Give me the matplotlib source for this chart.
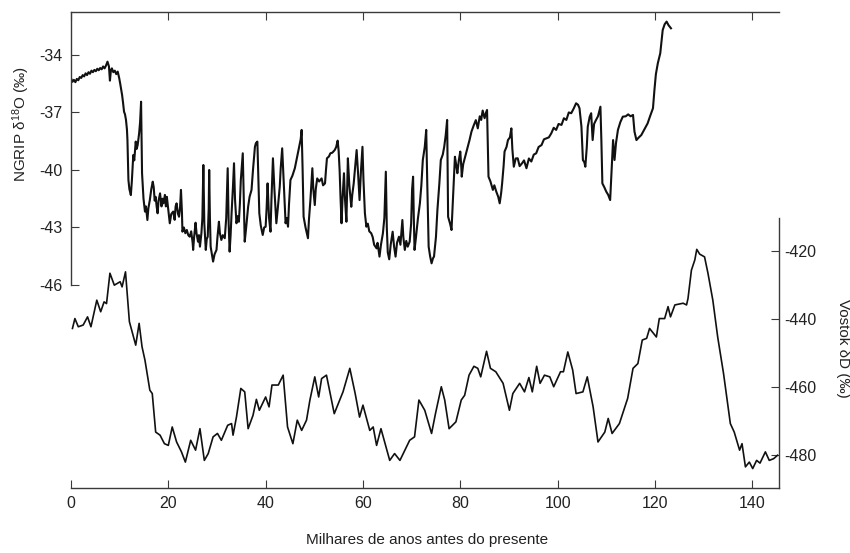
import numpy as np
import matplotlib
matplotlib.use("Agg")
import matplotlib.pyplot as plt

plt.rcParams['font.family'] = ['Liberation Sans', 'DejaVu Sans']
plt.rcParams['mathtext.fontset'] = 'custom'
plt.rcParams['mathtext.rm'] = 'Liberation Sans'
plt.rcParams['mathtext.it'] = 'Liberation Sans:italic'
plt.rcParams['axes.unicode_minus'] = False

# NGRIP δ18O (‰) against age (ka), ten values per row
ngrip_age = [
    0.0, 0.3, 0.6, 0.9, 1.2, 1.5, 1.8, 2.1, 2.4, 2.7,
    3.0, 3.3, 3.6, 3.9, 4.2, 4.5, 4.8, 5.1, 5.4, 5.7,
    6.0, 6.3, 6.6, 6.9, 7.2, 7.5, 7.8, 8.0, 8.2, 8.4,
    8.7, 9.0, 9.3, 9.6, 9.9, 10.1, 10.5, 10.7, 10.9, 11.1,
    11.3, 11.5, 11.6, 11.7, 11.8, 12.0, 12.3, 12.5, 12.8, 13.0,
    13.3, 13.5, 13.7, 13.9, 14.0, 14.2, 14.4, 14.5, 14.6, 14.9,
    15.2, 15.4, 15.7, 15.9, 16.2, 16.5, 16.8, 17.0, 17.2, 17.4,
    17.6, 17.8, 18.0, 18.3, 18.6, 18.8, 19.0, 19.3, 19.5, 19.7,
    20.0, 20.3, 20.6, 21.0, 21.3, 21.5, 21.7, 22.0, 22.2, 22.4,
    22.6, 22.8, 22.9, 23.2, 23.5, 23.8, 24.1, 24.4, 24.7, 25.0,
    25.1, 25.3, 25.6, 25.8, 26.1, 26.3, 26.5, 26.8, 27.0, 27.2,
    27.4, 27.7, 27.9, 28.1, 28.3, 28.4, 28.55, 28.7, 28.9, 29.2,
    29.5, 29.9, 30.1, 30.4, 30.6, 30.9, 31.2, 31.6, 31.9, 32.2,
    32.4, 32.6, 32.8, 33.0, 33.3, 33.5, 33.7, 34.0, 34.3, 34.5,
    34.7, 34.9, 35.1, 35.3, 35.5, 35.7, 36.0, 36.4, 36.7, 37.1,
    37.4, 37.8, 38.0, 38.3, 38.5, 38.7, 39.0, 39.4, 39.7, 40.0,
    40.2, 40.4, 40.7, 41.0, 41.2, 41.5, 41.8, 42.2, 42.5, 42.9,
    43.1, 43.4, 43.7, 44.1, 44.3, 44.6, 44.8, 45.1, 45.5, 46.0,
    46.4, 46.9, 47.2, 47.4, 47.6, 47.8, 48.2, 48.7, 48.9, 49.2,
    49.4, 49.6, 49.8, 50.1, 50.3, 50.6, 51.0, 51.5, 51.8, 52.2,
    52.4, 52.6, 53.0, 53.3, 53.7, 54.2, 54.5, 54.8, 55.0, 55.2,
    55.4, 55.6, 55.8, 56.1, 56.3, 56.6, 56.75, 56.9, 57.2, 57.6,
    57.8, 58.1, 58.4, 58.7, 59.0, 59.3, 59.6, 59.9, 60.1, 60.4,
    60.7, 61.0, 61.3, 61.7, 62.0, 62.3, 62.8, 63.0, 63.4, 63.7,
    64.1, 64.4, 64.7, 64.9, 65.1, 65.4, 65.7, 66.1, 66.4, 66.7,
    67.0, 67.4, 67.7, 68.1, 68.3, 68.6, 68.9, 69.2, 69.6, 69.9,
    70.1, 70.3, 70.45, 70.6, 70.9, 71.3, 71.7, 72.0, 72.3, 72.7,
    73.0, 73.2, 73.5, 73.8, 74.1, 74.4, 74.6, 75.0, 75.3, 75.7,
    76.0, 76.4, 76.7, 77.0, 77.3, 77.4, 77.5, 77.9, 78.2, 78.5,
    78.9, 79.2, 79.4, 79.7, 80.0, 80.2, 80.3, 80.6, 81.0, 81.4,
    81.9, 82.3, 82.8, 83.2, 83.6, 84.0, 84.3, 84.6, 85.0, 85.3,
    85.5, 85.65, 85.8, 86.2, 86.7, 87.0, 87.4, 87.8, 88.1, 88.4,
    88.6, 88.9, 89.1, 89.5, 89.8, 90.2, 90.5, 90.7, 91.0, 91.4,
    91.8, 92.2, 92.7, 93.1, 93.6, 94.1, 94.6, 95.1, 95.6, 96.1,
    96.7, 97.2, 97.7, 98.2, 98.7, 99.2, 99.7, 100.2, 100.8, 101.3,
    101.8, 102.3, 102.8, 103.3, 103.8, 104.2, 104.5, 104.9, 105.2, 105.5,
    105.7, 106.0, 106.2, 106.6, 106.9, 107.2, 107.5, 107.9, 108.3, 108.8,
    109.0, 109.2, 109.6, 110.0, 110.4, 110.8, 111.1, 111.4, 111.7, 112.0,
    112.4, 112.9, 113.4, 114.0, 114.5, 115.0, 115.5, 115.8, 116.2, 116.7,
    117.2, 117.8, 118.5, 119.0, 119.6, 119.9, 120.2, 120.6, 121.1, 121.4,
    121.6, 122.0, 122.4, 122.8, 123.3,
]
ngrip_d18o = [
    -35.22, -35.40, -35.30, -35.42, -35.25, -35.32, -35.15, -35.20, -35.05, -35.12,
    -34.96, -35.05, -34.90, -34.98, -34.82, -34.90, -34.78, -34.85, -34.72, -34.80,
    -34.68, -34.75, -34.60, -34.70, -34.55, -34.35, -34.60, -35.34, -34.80, -34.70,
    -34.90, -34.82, -35.00, -34.87, -35.20, -35.48, -36.09, -36.50, -36.96, -37.10,
    -37.39, -37.90, -38.44, -39.50, -40.52, -41.00, -41.31, -40.60, -39.22, -39.50,
    -38.52, -38.90, -38.70, -38.30, -38.09, -37.50, -36.44, -38.50, -40.17, -41.50,
    -42.17, -41.90, -42.61, -42.00, -41.57, -41.00, -40.61, -40.90, -41.60, -41.40,
    -41.90, -42.26, -41.60, -41.22, -41.90, -41.50, -41.74, -41.30, -41.90, -41.40,
    -42.10, -42.78, -42.30, -42.17, -42.60, -41.90, -41.74, -42.30, -42.44, -42.00,
    -41.04, -42.20, -43.22, -43.00, -43.30, -43.13, -43.40, -43.48, -43.20, -43.80,
    -44.17, -43.50, -42.75, -43.30, -43.74, -43.40, -44.00, -43.30, -42.50, -39.74,
    -42.80, -44.17, -43.60, -43.48, -42.00, -40.00, -42.50, -44.00, -44.30, -44.78,
    -44.40, -44.17, -43.50, -42.70, -43.30, -43.65, -43.40, -43.56, -42.50, -39.91,
    -42.80, -44.26, -43.40, -42.26, -40.80, -39.65, -41.50, -42.78, -42.40, -42.70,
    -41.80, -40.52, -39.80, -39.13, -41.50, -43.74, -43.00, -41.92, -41.40, -41.04,
    -40.00, -38.79, -38.60, -38.52, -40.50, -42.26, -42.90, -43.39, -43.00, -42.96,
    -42.00, -40.70, -42.50, -43.22, -41.50, -39.39, -41.00, -42.78, -42.00, -40.87,
    -39.90, -38.87, -40.50, -42.78, -42.50, -42.96, -41.80, -40.52, -40.30, -39.91,
    -39.40, -38.79, -38.40, -37.91, -40.00, -42.44, -43.00, -43.56, -42.60, -41.57,
    -40.70, -39.91, -41.00, -41.83, -41.00, -40.44, -40.60, -40.44, -40.80, -40.70,
    -40.00, -39.39, -39.30, -39.13, -39.10, -38.96, -38.80, -38.47, -39.00, -40.00,
    -41.50, -42.78, -41.50, -40.17, -41.50, -42.70, -41.00, -39.39, -40.80, -41.92,
    -41.30, -40.70, -39.80, -38.96, -40.20, -41.57, -40.00, -38.79, -40.50, -42.26,
    -42.96, -42.80, -43.20, -43.30, -43.50, -43.90, -44.09, -43.80, -44.52, -43.90,
    -43.30, -42.50, -40.09, -43.00, -44.30, -44.66, -43.90, -43.22, -44.00, -44.52,
    -43.80, -43.48, -43.90, -42.61, -43.50, -44.17, -43.70, -44.00, -43.74, -42.80,
    -41.00, -40.35, -42.50, -44.17, -43.50, -42.52, -41.74, -40.80, -39.48, -38.80,
    -37.91, -40.50, -44.00, -44.50, -44.87, -44.60, -44.52, -43.50, -42.09, -40.70,
    -39.48, -39.20, -38.79, -38.20, -37.39, -40.00, -42.44, -42.80, -43.13, -41.50,
    -39.31, -39.80, -40.17, -39.50, -39.04, -39.80, -40.35, -39.70, -39.31, -38.90,
    -38.44, -38.00, -37.65, -37.40, -37.83, -37.20, -37.39, -36.90, -37.30, -37.00,
    -36.87, -38.50, -40.35, -40.60, -41.04, -40.80, -41.13, -41.40, -41.74, -41.20,
    -40.70, -39.80, -39.04, -38.80, -38.44, -38.30, -37.83, -38.90, -39.83, -39.40,
    -39.39, -39.80, -39.65, -39.50, -39.91, -39.40, -39.56, -39.20, -39.13, -38.80,
    -38.70, -38.40, -38.35, -38.30, -38.09, -37.80, -37.91, -37.60, -37.65, -37.30,
    -37.39, -37.00, -37.04, -36.80, -36.52, -36.60, -36.78, -37.74, -39.48, -39.60,
    -39.83, -38.80, -37.74, -37.22, -37.04, -38.44, -37.60, -37.39, -37.20, -36.70,
    -38.50, -40.70, -40.90, -41.13, -41.30, -41.57, -40.00, -38.44, -39.48, -38.60,
    -37.91, -37.50, -37.22, -37.20, -37.10, -37.20, -37.13, -38.00, -38.44, -38.30,
    -38.18, -37.90, -37.57, -37.20, -36.78, -35.83, -35.00, -34.43, -33.91, -33.20,
    -32.70, -32.40, -32.26, -32.45, -32.61,
]

# Vostok δD (‰) against age (ka)
vostok_age = [
    0.3, 0.8, 1.5, 2.5, 3.4, 4.1, 5.3, 6.1, 6.8, 7.3, 8.0, 8.9, 10.1, 10.5,
    11.2, 12.0, 13.3, 14.0, 14.6, 15.2, 16.2, 16.7, 17.4, 18.3, 19.2, 20.0,
    20.8, 21.7, 22.7, 23.5, 24.6, 25.6, 26.5, 27.4, 28.2, 29.2, 30.1, 30.9,
    32.2, 33.0, 33.3, 34.0, 34.9, 35.7, 36.4, 37.4, 38.1, 38.7, 40.0, 40.7,
    41.3, 42.6, 43.6, 44.5, 45.6, 46.5, 47.4, 48.4, 49.1, 50.1, 50.9, 51.5,
    52.5, 54.1, 55.9, 57.3, 58.4, 59.3, 60.0, 61.4, 62.1, 62.8, 63.7, 65.5,
    66.5, 67.6, 69.6, 70.6, 71.5, 72.7, 74.1, 74.9, 76.1, 76.8, 77.7, 79.1,
    80.2, 80.9, 81.8, 82.8, 83.6, 84.2, 85.4, 86.2, 87.3, 88.8, 90.1, 90.8,
    92.2, 93.2, 94.1, 94.8, 95.7, 96.4, 97.3, 98.4, 99.2, 100.6, 101.2,
    102.1, 103.1, 103.8, 105.2, 106.1, 107.3, 108.3, 109.7, 110.4, 111.2,
    112.7, 114.4, 115.5, 116.5, 117.4, 118.3, 118.9, 120.3, 120.9, 122.0,
    122.7, 123.2, 124.1, 125.8, 126.5, 126.8, 127.5, 128.2, 128.6, 129.2,
    130.2, 130.9, 131.9, 132.9, 134.1, 135.5, 136.3, 137.4, 137.9, 138.6,
    139.4, 140.1, 140.9, 141.6, 142.7, 143.5, 144.4, 145.2,
]
vostok_dD = [
    -442.8, -439.9, -442.3, -441.8, -439.4, -442.3, -434.5, -437.9, -435.0,
    -435.5, -426.6, -430.1, -429.1, -430.6, -426.2, -440.8, -447.7, -441.3,
    -448.2, -452.1, -460.9, -461.9, -473.2, -474.1, -476.6, -477.1, -471.7,
    -476.1, -479.0, -482.0, -475.6, -478.5, -472.2, -481.5, -479.5, -474.6,
    -473.6, -475.6, -471.2, -470.7, -474.1, -468.8, -460.4, -461.4, -472.2,
    -468.3, -463.6, -466.8, -462.9, -465.8, -459.4, -459.4, -456.5, -471.7,
    -476.6, -469.7, -472.7, -469.7, -463.8, -457.0, -462.9, -457.5, -456.5,
    -467.8, -461.4, -454.5, -461.9, -468.8, -465.3, -472.7, -471.7, -477.1,
    -472.2, -481.5, -479.5, -481.5, -475.6, -474.6, -463.8, -466.8, -473.6,
    -467.8, -459.9, -463.8, -472.2, -470.2, -463.8, -462.4, -456.5, -453.9,
    -454.5, -457.0, -449.5, -454.5, -455.5, -458.9, -466.8, -461.9, -458.9,
    -461.4, -457.2, -461.4, -453.9, -458.9, -456.5, -457.0, -459.9, -455.5,
    -455.5, -449.7, -455.0, -461.9, -461.4, -457.0, -465.8, -476.1, -473.2,
    -469.2, -473.6, -470.7, -463.3, -454.5, -453.1, -446.2, -445.7, -442.8,
    -445.3, -439.9, -439.9, -436.4, -439.4, -435.9, -435.4, -435.9, -434.0,
    -425.7, -422.7, -419.6, -421.0, -421.8, -426.6, -434.5, -445.3, -456.0,
    -470.7, -473.2, -478.5, -476.6, -483.4, -482.0, -483.9, -481.5, -482.3,
    -479.0, -481.5, -481.0, -480.0,
]

x_ticks = [0, 20, 40, 60, 80, 100, 120, 140]
ngrip_ticks = [-34, -37, -40, -43, -46]
vostok_ticks = [-420, -440, -460, -480]

W, H = 850, 553
fig = plt.figure(figsize=(W / 100, H / 100), dpi=100)

spine_col = '#3a3a3a'
text_col = '#222222'

left, right = 71, 779
ax1 = fig.add_axes([left / W, 1 - 285 / H, (right - left) / W, (285 - 12) / H])
ax2 = fig.add_axes([left / W, 1 - 488 / H, (right - left) / W, (488 - 218) / H])
for ax in (ax1, ax2):
    ax.patch.set_alpha(0)
    ax.set_xlim(0, 145.5)
    for s in ax.spines.values():
        s.set_color(spine_col)
        s.set_linewidth(1.0)

# top panel: NGRIP with left and top spines
ax1.plot(ngrip_age, ngrip_d18o, color='#111111', lw=1.5)
ax1.set_ylim(-46, -31.76)
ax1.spines['right'].set_visible(False)
ax1.spines['bottom'].set_visible(False)
ax1.set_yticks(ngrip_ticks)
ax1.set_yticklabels([str(t) for t in ngrip_ticks])
ax1.set_xticks(x_ticks)
ax1.tick_params(axis='x', which='both', bottom=False, labelbottom=False,
                top=True, labeltop=False, direction='in', length=6,
                color=spine_col)
ax1.tick_params(axis='y', direction='in', length=6, pad=6, labelsize=11.5,
                color=spine_col, labelcolor=text_col)

# bottom panel: Vostok with bottom and right spines
ax2.plot(vostok_age, vostok_dD, color='#111111', lw=1.2)
ax2.set_ylim(-489.6, -410.4)
ax2.spines['left'].set_visible(False)
ax2.spines['top'].set_visible(False)
ax2.yaxis.tick_right()
ax2.set_yticks(vostok_ticks)
ax2.set_yticklabels([str(t) for t in vostok_ticks])
ax2.set_xticks(x_ticks)
ax2.set_xticklabels([str(t) for t in x_ticks])
ax2.tick_params(axis='x', direction='in', length=6, pad=6, labelsize=11.5,
                color=spine_col, labelcolor=text_col)
ax2.tick_params(axis='y', direction='in', length=6, pad=4, labelsize=11.5,
                color=spine_col, labelcolor=text_col)

fig.text(21 / W, 1 - 124 / H, 'NGRIP δ$^{18}$O (‰)', rotation=90,
         ha='center', va='center', fontsize=11, color=text_col)
fig.text(843 / W, 1 - 348 / H, 'Vostok δD (‰)', rotation=270,
         ha='center', va='center', fontsize=11, color=text_col)
fig.text(427 / W, 1 - 540 / H, 'Milhares de anos antes do presente',
         ha='center', va='center', fontsize=11, color=text_col)

fig.savefig('out.png', dpi=100)
